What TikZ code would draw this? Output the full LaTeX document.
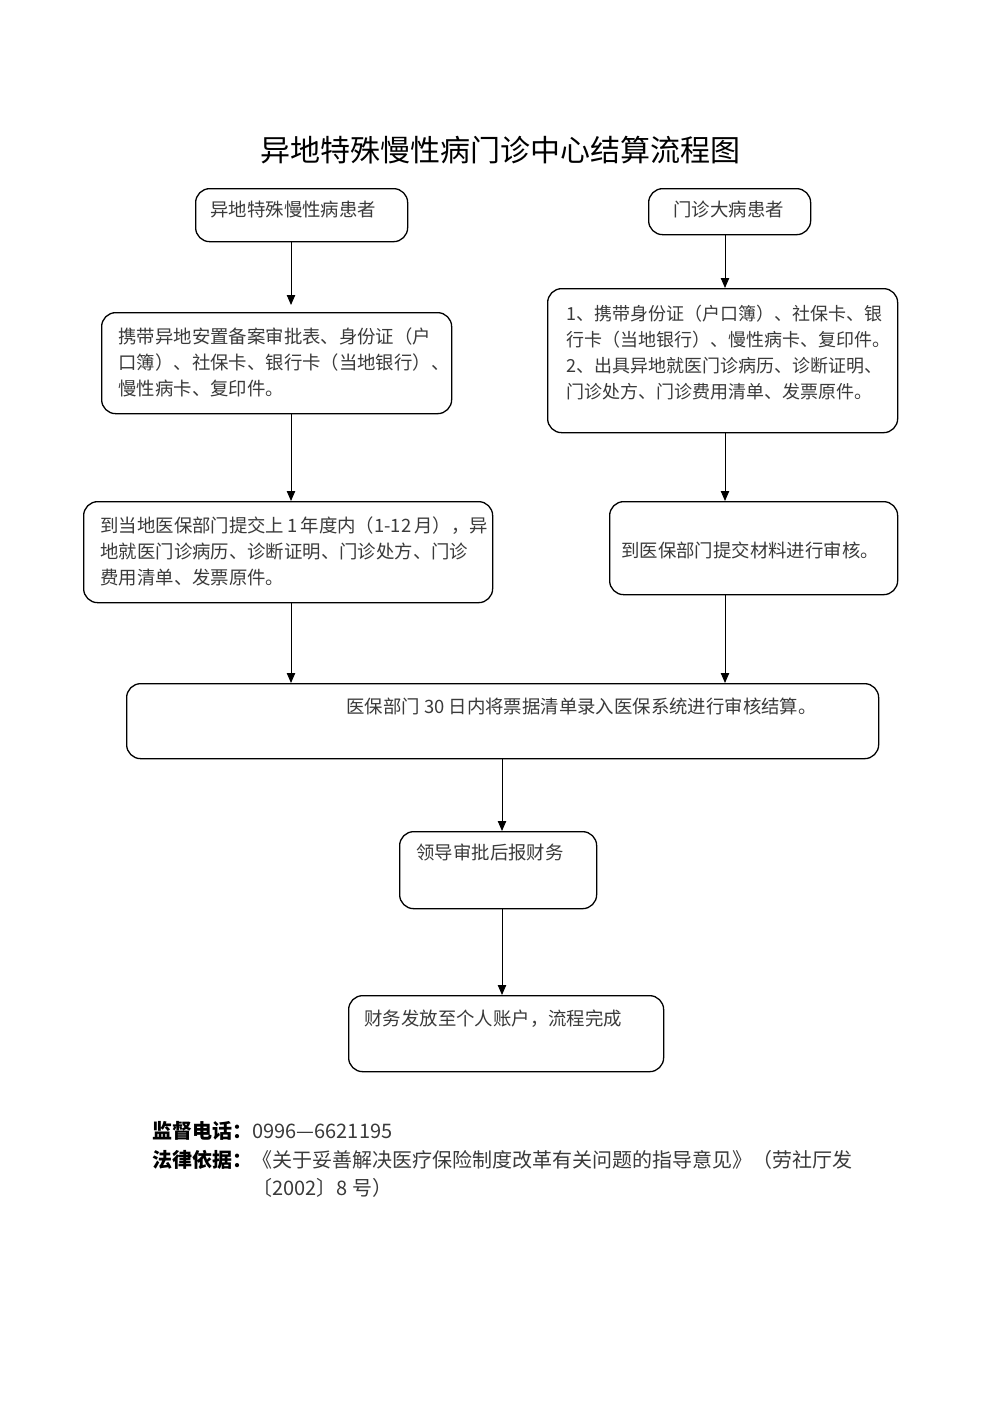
\documentclass[tikz,border=0pt]{standalone}
\usepackage{fontspec}
\setmainfont{Noto Sans CJK SC}
\usetikzlibrary{arrows.meta}
\definecolor{txt}{HTML}{3A3A3A}
\tikzset{
  box/.style={draw=black, line width=0.65pt, rounded corners=7pt, anchor=north west, inner sep=0pt},
  tx/.style={anchor=north west, inner sep=0pt, align=left, text=txt, font=\fontsize{9.2}{13}\selectfont},
  arr/.style={draw=black, line width=0.5pt, -{Triangle[length=5pt,width=4.2pt]}}
}
\begin{document}
\begin{tikzpicture}[x=0.5pt,y=-0.5pt]
\useasboundingbox[fill=white] (0,0) rectangle (1000,1415);
% title
\node[inner sep=0pt, font=\fontsize{15}{18}\selectfont] (title) at (500,150) {异地特殊慢性病门诊中心结算流程图};
% boxes
\node[box, minimum width=106pt, minimum height=26.5pt] (a) at (195,188) {};
\node[box, minimum width=81pt, minimum height=23pt] (b) at (648,188) {};
\node[box, minimum width=175pt, minimum height=50.5pt] (c) at (101,312) {};
\node[box, minimum width=175pt, minimum height=72pt] (d) at (547,288) {};
\node[box, minimum width=204.5pt, minimum height=50.5pt] (e) at (83,501) {};
\node[box, minimum width=144pt, minimum height=46.5pt] (f) at (609,501) {};
\node[box, minimum width=376pt, minimum height=37.5pt] (g) at (126,683) {};
\node[box, minimum width=98.5pt, minimum height=38.5pt] (h) at (399,831) {};
\node[box, minimum width=157.5pt, minimum height=38pt] (i) at (348,995) {};
% texts
\node[tx] (at) at (210,201) {异地特殊慢性病患者};
\node[tx] (bt) at (673,201) {门诊大病患者};
\node[tx] (ct) at (118,327) {携带异地安置备案审批表、身份证（户\\口簿）、社保卡、银行卡（当地银行）、\\慢性病卡、复印件。};
\node[tx, font=\fontsize{9}{13}\selectfont] (dt) at (566,305) {1、携带身份证（户口簿）、社保卡、银\\行卡（当地银行）、慢性病卡、复印件。\\2、出具异地就医门诊病历、诊断证明、\\门诊处方、门诊费用清单、发票原件。};
\node[tx] (et) at (100,516) {到当地医保部门提交上\,1\,年度内（1-12\,月），异\\地就医门诊病历、诊断证明、门诊处方、门诊\\费用清单、发票原件。};
\node[tx, anchor=center] (ft) at (750,550) {到医保部门提交材料进行审核。};
\node[tx] (gt) at (346,698) {医保部门 30 日内将票据清单录入医保系统进行审核结算。};
\node[tx] (ht) at (416,844) {领导审批后报财务};
\node[tx] (it) at (364,1009) {财务发放至个人账户，流程完成};
% column x positions
\coordinate (lx) at (291,0);
\coordinate (rx) at (725,0);
\coordinate (mx) at (502,0);
% connectors
\draw[arr, shorten >=3.5pt] (a.south -| lx) -- (c.north -| lx);
\draw[arr] (c.south -| lx) -- (e.north -| lx);
\draw[arr] (e.south -| lx) -- (g.north -| lx);
\draw[arr] (b.south -| rx) -- (d.north -| rx);
\draw[arr] (d.south -| rx) -- (f.north -| rx);
\draw[arr] (f.south -| rx) -- (g.north -| rx);
\draw[arr] (g.south -| mx) -- (h.north -| mx);
\draw[arr] (h.south -| mx) -- (i.north -| mx);
% footer
\node[anchor=north west, inner sep=0pt, align=left, font=\fontsize{10}{14.3}\selectfont, text=txt] (foot) at (152,1121)
 {\textcolor{black}{\bfseries 监督电话：}0996—6621195\\
  \textcolor{black}{\bfseries 法律依据：}《关于妥善解决医疗保险制度改革有关问题的指导意见》（劳社厅发\\
  \hphantom{\bfseries 法律依据：}〔2002〕8 号）};
\end{tikzpicture}
\end{document}
